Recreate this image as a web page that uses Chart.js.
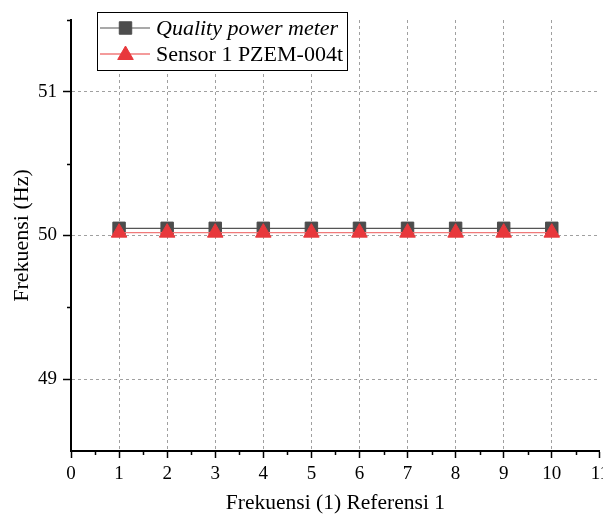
<!DOCTYPE html>
<html>
<head>
<meta charset="utf-8">
<script src="https://cdn.jsdelivr.net/npm/chart.js@4/dist/chart.umd.min.js"></script>
<style>
  html, body { margin: 0; padding: 0; background: #fff; overflow: hidden; }
  /* a bit wider than the window so the "11" label runs off the edge like the original */
  #wrap { width: 614px; height: 515px; position: relative; }
</style>
</head>
<body>
<div id="wrap"><canvas id="freqChart"></canvas></div>
<script>
  // frequency readings vs reference point
  var X_VALUES = [1, 2, 3, 4, 5, 6, 7, 8, 9, 10];
  var QPM_VALUES = [50.05, 50.05, 50.05, 50.05, 50.05, 50.05, 50.05, 50.05, 50.05, 50.05];
  var PZEM_VALUES = [50.02, 50.02, 50.02, 50.02, 50.02, 50.02, 50.02, 50.02, 50.02, 50.02];
  var SERIES_NAMES = ["Quality power meter", "Sensor 1 PZEM-004t"];
  var X_TICKS = [0, 1, 2, 3, 4, 5, 6, 7, 8, 9, 10, 11];
  var Y_TICKS = [49, 50, 51];
  var X_MINOR = [0.5, 1.5, 2.5, 3.5, 4.5, 5.5, 6.5, 7.5, 8.5, 9.5, 10.5];
  var Y_MINOR = [49.5, 50.5, 51.5];

  var FONT = "'Liberation Serif', 'Times New Roman', serif";

  function toPoints(ys) {
    return X_VALUES.map(function (x, i) {
      return { x: x, y: ys[i] };
    });
  }

  var minorTicks = {
    id: "minorTicks",
    afterDraw: function (chart) {
      var ctx = chart.ctx;
      var xs = chart.scales.x;
      var ys = chart.scales.y;
      var a = chart.chartArea;
      ctx.save();
      ctx.strokeStyle = "#000";
      ctx.lineWidth = 1.5;
      ctx.beginPath();
      X_MINOR.forEach(function (v) {
        var px = Math.round(xs.getPixelForValue(v)) + 0.5;
        ctx.moveTo(px, a.bottom);
        ctx.lineTo(px, a.bottom + 4);
      });
      Y_MINOR.forEach(function (v) {
        var py = Math.round(ys.getPixelForValue(v)) + 0.5;
        ctx.moveTo(a.left - 4, py);
        ctx.lineTo(a.left, py);
      });
      ctx.stroke();
      ctx.restore();
    },
  };

  var boxLegend = {
    id: "boxLegend",
    afterDraw: function (chart) {
      var ctx = chart.ctx;
      ctx.save();
      ctx.fillStyle = "#fff";
      ctx.fillRect(97.5, 12.5, 250, 58);
      ctx.strokeStyle = "#000";
      ctx.lineWidth = 1;
      ctx.strokeRect(97.5, 12.5, 250, 58);
      SERIES_NAMES.forEach(function (name, i) {
        var ds = chart.data.datasets[i];
        var y = 28 + i * 26;
        ctx.strokeStyle = ds.borderColor;
        ctx.lineWidth = ds.borderWidth;
        ctx.beginPath();
        ctx.moveTo(100, y);
        ctx.lineTo(150, y);
        ctx.stroke();
        ctx.fillStyle = ds.pointBackgroundColor;
        ctx.strokeStyle = ds.pointBorderColor;
        ctx.lineWidth = 1;
        Chart.helpers.drawPoint(ctx, { pointStyle: ds.pointStyle, radius: ds.pointRadius, borderWidth: 1, rotation: 0 }, 125.5, i === 1 ? y + 1 : y);
        ctx.fillStyle = "#000";
        ctx.textBaseline = "middle";
        ctx.textAlign = "left";
        ctx.font = (i === 0 ? "italic " : "") + "22px " + FONT;
        ctx.fillText(name, 156, y + 1);
      });
      ctx.restore();
    },
  };

  new Chart(document.getElementById("freqChart"), {
    type: "line",
    data: {
      datasets: [
        {
          label: SERIES_NAMES[0],
          data: toPoints(QPM_VALUES),
          borderColor: "#555555",
          borderWidth: 1.2,
          pointStyle: "rect",
          pointRadius: 8.8,
          pointBackgroundColor: "#4d4d4d",
          pointBorderColor: "#4d4d4d",
          pointBorderWidth: 1,
          order: 1,
        },
        {
          label: SERIES_NAMES[1],
          data: toPoints(PZEM_VALUES),
          borderColor: "#f07a7a",
          borderWidth: 1.4,
          pointStyle: "triangle",
          pointRadius: 9,
          pointBackgroundColor: "#e8383c",
          pointBorderColor: "#e8383c",
          pointBorderWidth: 1,
          order: 0,
        },
      ],
    },
    options: {
      responsive: true,
      maintainAspectRatio: false,
      animation: false,
      events: [],
      layout: { padding: { top: 20, right: 0, bottom: 0, left: 0 } },
      plugins: { legend: { display: false }, tooltip: { enabled: false } },
      scales: {
        x: {
          type: "linear",
          min: 0,
          max: 11,
          afterBuildTicks: function (s) {
            s.ticks = X_TICKS.map(function (v) { return { value: v }; });
          },
          afterFit: function (s) {
            s.height = 64;
          },
          grid: {
            color: function (c) {
              var v = c.tick ? c.tick.value : null;
              return v === 0 || v === 11 ? "rgba(0,0,0,0)" : "#a0a0a0";
            },
            lineWidth: 1,
            tickLength: 7,
            tickColor: "#000",
            tickWidth: 1.5,
            tickBorderDash: [],
          },
          border: { display: true, color: "#000", width: 2, dash: [3, 3] },
          ticks: {
            color: "#000",
            padding: 5,
            maxRotation: 0,
            autoSkip: false,
            font: { family: FONT, size: 19 },
          },
          title: {
            display: true,
            text: "Frekuensi (1) Referensi 1",
            color: "#000",
            font: { family: FONT, size: 21.5, lineHeight: 1 },
            padding: { top: 0, bottom: 0.5 },
          },
        },
        y: {
          type: "linear",
          min: 48.5,
          max: 51.5,
          afterBuildTicks: function (s) {
            s.ticks = Y_TICKS.map(function (v) { return { value: v }; });
          },
          afterFit: function (s) {
            s.width = 71;
          },
          grid: {
            color: "#a0a0a0",
            lineWidth: 1,
            tickLength: 8,
            tickColor: "#000",
            tickWidth: 1.5,
            tickBorderDash: [],
          },
          border: { display: true, color: "#000", width: 2, dash: [3, 3] },
          ticks: {
            color: "#000",
            padding: 6,
            font: { family: FONT, size: 19 },
          },
          title: {
            display: true,
            text: "Frekuensi (Hz)",
            color: "#000",
            font: { family: FONT, size: 22, lineHeight: 1 },
            padding: { top: 11, bottom: 0 },
          },
        },
      },
    },
    plugins: [minorTicks, boxLegend],
  });
</script>
</body>
</html>
